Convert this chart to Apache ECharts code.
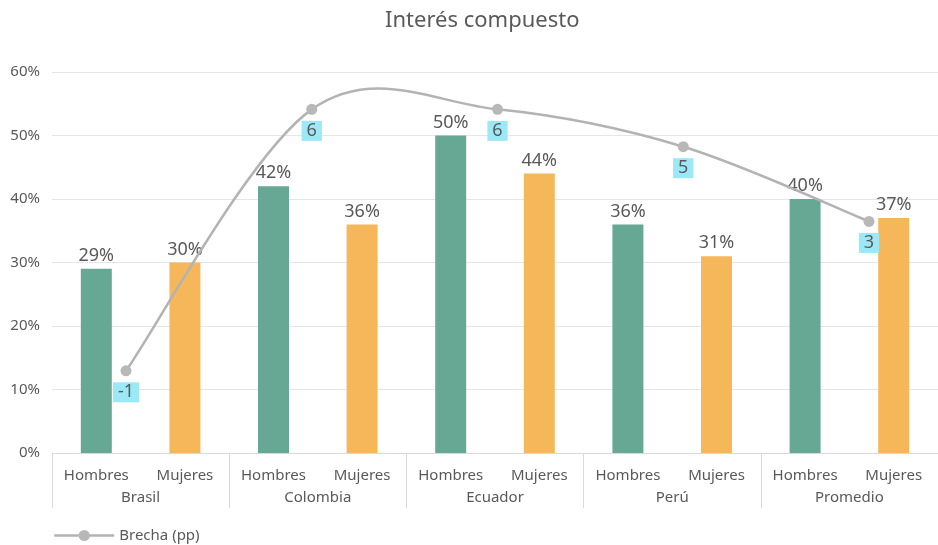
<!DOCTYPE html>
<html>
<head>
<meta charset="utf-8">
<script src="https://cdn.jsdelivr.net/npm/echarts@6/dist/echarts.min.js"></script>
<style>html,body{margin:0;padding:0;background:#fff;}#c{width:938px;height:545px;}</style>
</head>
<body>
<div id="c"></div>
<script>
const countries = ['Brasil', 'Colombia', 'Ecuador', 'Perú', 'Promedio'];
const groups = ['Hombres', 'Mujeres'];
const hombres = [29, 42, 50, 36, 40];
const mujeres = [30, 36, 44, 31, 37];
const brecha = [-1, 6, 6, 5, 3];
const yTicks = [0, 10, 20, 30, 40, 50, 60];

const FONT = '"Noto Sans", sans-serif';
const TXT = '#595959';
const GREEN = '#67A894';
const ORANGE = '#F6B75B';
const LINE = '#B3B3B3';

const subCats = [];
const barData = [];
countries.forEach((c, i) => {
  subCats.push(groups[0] + '|' + c);
  barData.push({ value: hombres[i], itemStyle: { color: GREEN } });
  subCats.push(groups[1] + '|' + c);
  barData.push({ value: mujeres[i], itemStyle: { color: ORANGE } });
});

// Smooth curve through the Brecha points (Catmull-Rom style, like the spreadsheet smoothing)
function renderCurve(params, api) {
  const i = params.dataIndex;
  const n = brecha.length;
  if (i >= n - 1) return null;
  const P = k => {
    const kk = Math.max(0, Math.min(n - 1, k));
    return api.coord([kk, brecha[kk]]);
  };
  const p0 = P(i - 1), p1 = P(i), p2 = P(i + 1), p3 = P(i + 2);
  const t = 1 / 6;
  return {
    type: 'bezierCurve',
    shape: {
      x1: p1[0], y1: p1[1], x2: p2[0], y2: p2[1],
      cpx1: p1[0] + (p2[0] - p0[0]) * t, cpy1: p1[1] + (p2[1] - p0[1]) * t,
      cpx2: p2[0] - (p3[0] - p1[0]) * t, cpy2: p2[1] - (p3[1] - p1[1]) * t
    },
    style: { stroke: LINE, lineWidth: 2.5, fill: null }
  };
}

const chart = echarts.init(document.getElementById('c'), null, { renderer: 'canvas' });
chart.setOption({
  backgroundColor: '#fff',
  animation: false,
  textStyle: { fontFamily: FONT },
  title: {
    text: 'Interés compuesto',
    left: 380, top: 5,
    textStyle: { fontFamily: FONT, fontSize: 22, fontWeight: 'normal', color: TXT }
  },
  legend: {
    data: ['Brecha (pp)'],
    left: 53, top: 528, padding: 0,
    itemWidth: 60, itemHeight: 14, itemGap: 10,
    lineStyle: { color: LINE, width: 2.5, opacity: 1 },
    textStyle: { fontFamily: FONT, fontSize: 15, color: TXT }
  },
  grid: [
    { left: 52, right: -11, top: 72, bottom: 92 },
    { left: 126, right: 69, top: 72, bottom: 92 }
  ],
  xAxis: [
    {
      type: 'category', gridIndex: 0, data: subCats, position: 'bottom',
      axisLine: { lineStyle: { color: '#D9D9D9', width: 1 } },
      axisTick: { show: false },
      axisLabel: { interval: 0, margin: 15, fontFamily: FONT, fontSize: 15, color: TXT,
        formatter: v => v.split('|')[0] }
    },
    {
      type: 'category', gridIndex: 0, data: countries, position: 'bottom',
      axisLine: { show: false },
      axisTick: { show: true, length: 55, lineStyle: { color: '#D9D9D9', width: 1 } },
      axisLabel: { interval: 0, margin: 37, fontFamily: FONT, fontSize: 15, color: TXT }
    },
    {
      type: 'category', gridIndex: 1, data: countries, boundaryGap: false, show: false
    }
  ],
  yAxis: [
    {
      type: 'value', gridIndex: 0, min: yTicks[0], max: yTicks[yTicks.length - 1], interval: 10,
      axisLine: { show: false }, axisTick: { show: false },
      axisLabel: { margin: 12, fontFamily: FONT, fontSize: 15, color: TXT, formatter: '{value}%' },
      splitLine: { lineStyle: { color: '#E6E6E6', width: 1 } }
    },
    { type: 'value', gridIndex: 1, min: -3.2, max: 7, show: false }
  ],
  series: [
    {
      type: 'bar', name: 'Tasa', xAxisIndex: 0, yAxisIndex: 0,
      data: barData, barWidth: 31,
      label: { show: true, position: 'top', distance: 4, fontFamily: FONT, fontSize: 18, color: TXT,
        formatter: p => Math.round(p.value) + '%' }
    },
    {
      type: 'custom', name: 'curva', xAxisIndex: 2, yAxisIndex: 1,
      renderItem: renderCurve,
      data: brecha.map((v, i) => [i, v]),
      encode: { x: 0, y: 1 },
      silent: true, z: 4
    },
    {
      type: 'line', name: 'Brecha (pp)', xAxisIndex: 2, yAxisIndex: 1,
      data: brecha,
      symbol: 'circle', symbolSize: 11,
      lineStyle: { color: LINE, width: 2.5, opacity: 0 },
      itemStyle: { color: '#B8B8B8' },
      label: { show: true, position: 'bottom', distance: 6, fontFamily: FONT, fontSize: 18, color: TXT,
        backgroundColor: '#9BE9F6', padding: [0, 5], lineHeight: 20,
        formatter: p => String(Math.round(p.value)) },
      z: 5
    }
  ]
});
</script>
</body>
</html>
